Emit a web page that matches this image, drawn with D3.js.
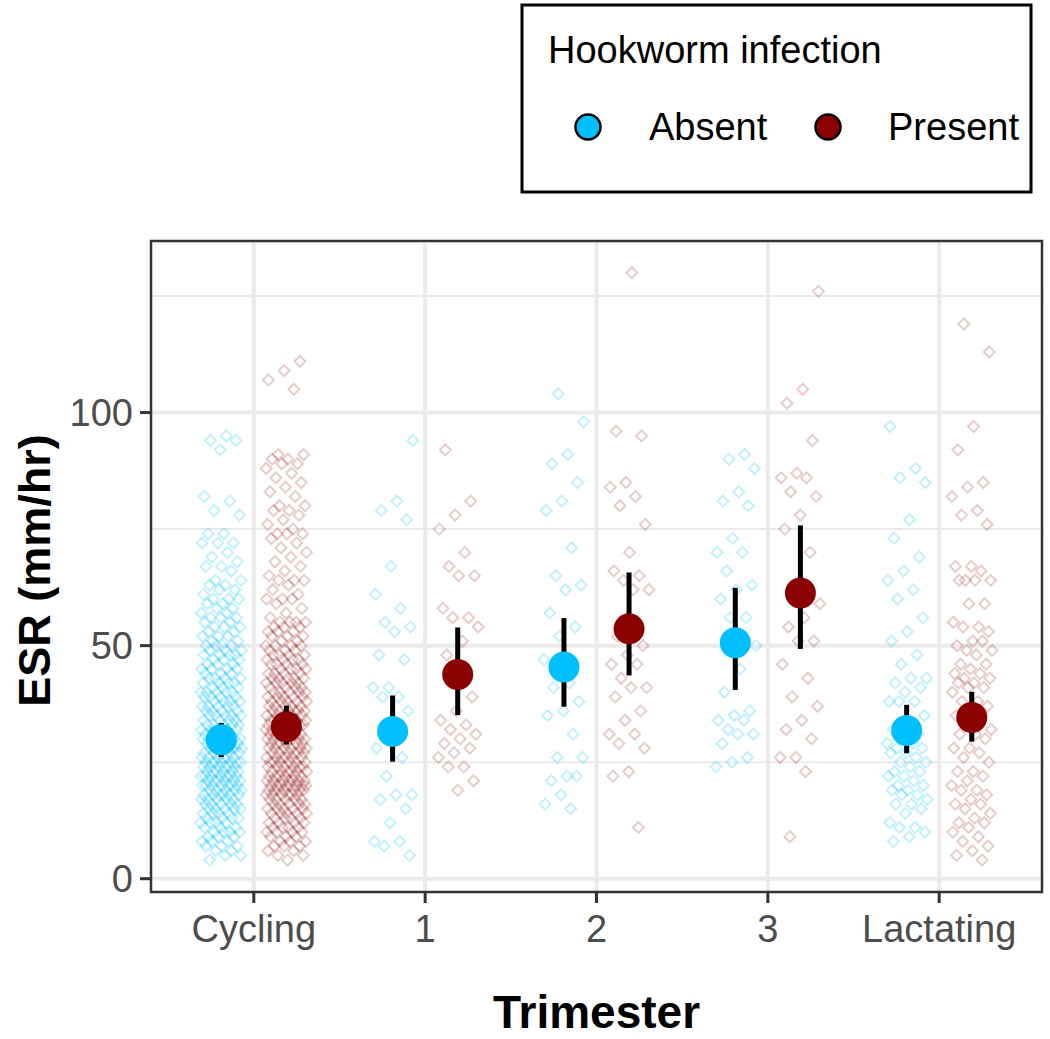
<!DOCTYPE html>
<html>
<head>
<meta charset="utf-8">
<script src="https://cdn.jsdelivr.net/npm/d3@7"></script>
<style>
  html, body { margin: 0; padding: 0; background: #fff; }
  svg { display: block; font-family: "Liberation Sans", Arial, Helvetica, sans-serif; }
</style>
</head>
<body>
<svg id="chart" width="1050" height="1039"></svg>
<script>
// ---------------- data ----------------
const categories = ["Cycling", "1", "2", "3", "Lactating"];
const groups = ["Absent", "Present"];
const groupColors = ["#00BFFF", "#8B0000"];

const meanAbsent  = [29.8, 31.6, 45.4, 50.6, 31.8];
const lowAbsent   = [26.1, 25.1, 36.9, 40.5, 26.9];
const highAbsent  = [33.4, 39.3, 55.9, 62.4, 37.3];
const meanPresent = [32.6, 43.8, 53.6, 61.3, 34.6];
const lowPresent  = [28.8, 35.1, 43.6, 49.3, 29.4];
const highPresent = [37.1, 53.9, 65.7, 75.8, 40.1];

const yMajorTicks = [0, 50, 100];
const yMinorTicks = [25, 75, 125];

const cyclingAbsent = [95,94,94,92,82,81,79,78,74,74,72,72,72,70,69,68,67,67,66,64,64,63,63,62,62,61,60,60,60,59,59,58,58,57,57,56,56,56,55,55,54,54,54,53,53,52,52,52,51,51,50,50,50,50,49,49,49,48,48,48,48,47,47,47,46,46,46,45,45,45,45,44,44,44,43,43,43,43,42,42,42,42,41,41,41,40,40,40,40,40,39,39,39,39,38,38,38,38,37,37,37,37,37,36,36,36,36,35,35,35,35,35,34,34,34,34,33,33,33,33,33,32,32,32,32,32,31,31,31,31,30,30,30,30,30,30,29,29,29,29,29,28,28,28,28,28,28,27,27,27,27,27,26,26,26,26,26,26,25,25,25,25,25,25,25,24,24,24,24,24,24,23,23,23,23,23,23,22,22,22,22,22,22,22,21,21,21,21,21,21,20,20,20,20,20,20,20,19,19,19,19,19,18,18,18,18,18,18,17,17,17,17,17,16,16,16,16,16,15,15,15,15,15,14,14,14,14,13,13,13,13,12,12,12,12,11,11,11,10,10,10,10,9,9,9,8,8,8,7,7,7,6,6,5,5,4];
const cyclingPresent = [111,109,107,105,91,91,90,90,89,89,88,87,86,85,84,83,82,80,80,79,79,78,77,76,75,74,74,74,73,72,71,70,69,68,67,66,65,64,64,64,63,62,61,60,60,60,59,58,57,56,55,55,55,55,54,54,54,53,53,53,52,52,52,51,51,50,50,50,50,49,49,49,48,48,48,48,47,47,47,47,46,46,46,46,45,45,45,45,44,44,44,44,43,43,43,43,43,42,42,42,42,42,41,41,41,41,40,40,40,40,40,39,39,39,39,39,38,38,38,38,38,37,37,37,37,37,36,36,36,36,36,36,35,35,35,35,35,35,34,34,34,34,34,34,33,33,33,33,33,33,32,32,32,32,32,32,31,31,31,31,31,31,30,30,30,30,30,30,30,29,29,29,29,29,29,28,28,28,28,28,28,27,27,27,27,27,27,26,26,26,26,26,26,25,25,25,25,25,25,24,24,24,24,24,24,23,23,23,23,23,23,22,22,22,22,22,22,21,21,21,21,21,21,21,20,20,20,20,20,20,20,20,19,19,19,19,19,19,19,18,18,18,18,18,18,17,17,17,17,17,16,16,16,16,16,15,15,15,15,15,14,14,14,14,14,13,13,13,13,12,12,12,12,11,11,11,11,10,10,10,10,9,9,9,8,8,8,7,7,7,6,6,5,5,4];
const t1Absent = [94,81,79,77,67,61,58,55,54,53,48,47,41,41,39,39,36,31,28,26,22,18,18,17,15,12,8,8,7,5];
const t1Present = [92,81,78,75,70,67,65,65,58,56,56,54,51,48,39,36,34,33,32,31,30,29,28,27,26,24,24,21,19];
const t2Absent = [104,98,91,89,85,81,79,71,65,63,62,57,54,52,47,42,41,38,36,35,31,26,26,22,21,22,18,16,15];
const t2Present = [130,96,95,85,84,82,80,76,70,66,65,64,62,62,52,50,48,46,46,43,41,41,39,36,34,31,31,29,28,23,22,11];
const t3Absent = [91,90,88,83,81,80,73,70,70,66,63,62,60,56,56,50,45,40,36,35,34,34,32,31,31,29,26,25,24];
const t3Present = [126,105,102,94,87,86,86,83,82,78,75,70,63,59,56,54,51,51,46,43,39,37,34,32,30,26,26,23,9];
const lactAbsent = [97,88,86,85,77,73,69,66,64,62,60,56,53,51,48,46,43,43,42,41,40,38,38,38,35,33,32,31,30,29,29,28,28,27,27,26,25,25,24,23,23,22,22,21,20,20,19,19,18,18,17,16,16,15,14,12,11,11,10,9,8];
const lactPresent = [119,113,97,92,85,84,82,79,78,76,67,67,66,64,64,64,64,59,59,55,54,54,53,51,50,51,49,49,48,46,46,45,44,44,43,43,42,42,41,41,40,38,38,37,36,35,35,33,32,31,31,30,28,28,27,26,25,23,23,22,21,20,19,19,18,17,16,16,15,14,13,12,12,11,10,9,8,7,6,5,4];

const rawAbsent  = [cyclingAbsent, t1Absent, t2Absent, t3Absent, lactAbsent];
const rawPresent = [cyclingPresent, t1Present, t2Present, t3Present, lactPresent];

// ---------------- layout ----------------
const svg = d3.select("#chart");
const panel = { left: 151, right: 1042, top: 241, bottom: 892 };

const x = d3.scalePoint().domain(categories)
  .range([panel.left, panel.right]).padding(0.6);
const step = x.step();
const dodge = d3.scaleOrdinal().domain(groups).range([-0.19 * step, 0.19 * step]);
const color = d3.scaleOrdinal().domain(groups).range(groupColors);

const y = d3.scaleLinear().domain([-2.85, 136.8]).range([panel.bottom, panel.top]);

const font = "'Liberation Sans', Arial, Helvetica, sans-serif";

// grid
const grid = svg.append("g");
grid.selectAll("line.minor").data(yMinorTicks).join("line")
  .attr("x1", panel.left).attr("x2", panel.right)
  .attr("y1", d => y(d)).attr("y2", d => y(d))
  .attr("stroke", "#EBEBEB").attr("stroke-width", 2);
grid.selectAll("line.major").data(yMajorTicks).join("line")
  .attr("x1", panel.left).attr("x2", panel.right)
  .attr("y1", d => y(d)).attr("y2", d => y(d))
  .attr("stroke", "#EBEBEB").attr("stroke-width", 4);
grid.selectAll("line.vmajor").data(categories).join("line")
  .attr("x1", d => x(d)).attr("x2", d => x(d))
  .attr("y1", panel.top).attr("y2", panel.bottom)
  .attr("stroke", "#EBEBEB").attr("stroke-width", 4);

// raw jittered points
const diamond = "M0,-5.5L5.5,0L0,5.5L-5.5,0Z";
const jitterHalf = 0.12 * step;
const pts = [];
[rawAbsent, rawPresent].forEach((sets, gi) => {
  sets.forEach((vals, ci) => {
    vals.forEach((v, i) => {
      const frac = ((i + 1) * 0.6180339887 + ci * 0.37 + gi * 0.21) % 1;
      pts.push({ cat: categories[ci], grp: groups[gi], v, j: (frac - 0.5) * 2 * jitterHalf });
    });
  });
});
svg.append("g").selectAll("path").data(pts).join("path")
  .attr("d", diamond)
  .attr("transform", d => `translate(${x(d.cat) + dodge(d.grp) + d.j},${y(d.v)})`)
  .attr("fill", "none")
  .attr("stroke", d => color(d.grp))
  .attr("stroke-width", 2)
  .attr("stroke-opacity", d => d.grp === "Absent" ? 0.24 : 0.2);

// error bars + means
const summary = [];
categories.forEach((c, i) => {
  summary.push({ cat: c, grp: "Absent", m: meanAbsent[i], lo: lowAbsent[i], hi: highAbsent[i] });
  summary.push({ cat: c, grp: "Present", m: meanPresent[i], lo: lowPresent[i], hi: highPresent[i] });
});
svg.append("g").selectAll("line").data(summary).join("line")
  .attr("x1", d => x(d.cat) + dodge(d.grp)).attr("x2", d => x(d.cat) + dodge(d.grp))
  .attr("y1", d => y(d.lo)).attr("y2", d => y(d.hi))
  .attr("stroke", "#000").attr("stroke-width", 5);
svg.append("g").selectAll("circle").data(summary).join("circle")
  .attr("cx", d => x(d.cat) + dodge(d.grp)).attr("cy", d => y(d.m))
  .attr("r", 15.5).attr("fill", d => color(d.grp));

// panel border
svg.append("rect")
  .attr("x", panel.left).attr("y", panel.top)
  .attr("width", panel.right - panel.left).attr("height", panel.bottom - panel.top)
  .attr("fill", "none").attr("stroke", "#333333").attr("stroke-width", 2.5);

// y axis ticks + labels
const yAxis = svg.append("g");
yAxis.selectAll("line").data(yMajorTicks).join("line")
  .attr("x1", panel.left - 11).attr("x2", panel.left)
  .attr("y1", d => y(d)).attr("y2", d => y(d))
  .attr("stroke", "#333333").attr("stroke-width", 3);
yAxis.selectAll("text").data(yMajorTicks).join("text")
  .attr("x", panel.left - 18).attr("y", d => y(d))
  .attr("dy", "0.36em").attr("text-anchor", "end")
  .attr("font-size", 38).attr("fill", "#4D4D4D").attr("font-family", font)
  .text(d => d);

// x axis ticks + labels
const xAxis = svg.append("g");
xAxis.selectAll("line").data(categories).join("line")
  .attr("x1", d => x(d)).attr("x2", d => x(d))
  .attr("y1", panel.bottom).attr("y2", panel.bottom + 11)
  .attr("stroke", "#333333").attr("stroke-width", 3);
xAxis.selectAll("text").data(categories).join("text")
  .attr("x", d => x(d)).attr("y", 942)
  .attr("text-anchor", "middle")
  .attr("font-size", 38).attr("fill", "#4D4D4D").attr("font-family", font)
  .text(d => d);

// axis titles
svg.append("text")
  .attr("x", (panel.left + panel.right) / 2).attr("y", 1028)
  .attr("text-anchor", "middle").attr("font-weight", "bold")
  .attr("font-size", 46).attr("font-family", font).attr("fill", "#000")
  .text("Trimester");
svg.append("text")
  .attr("transform", `translate(50,${(panel.top + panel.bottom) / 2 + 4}) rotate(-90)`)
  .attr("text-anchor", "middle").attr("font-weight", "bold")
  .attr("font-size", 45).attr("font-family", font).attr("fill", "#000")
  .text("ESR (mm/hr)");

// legend
const lg = svg.append("g");
lg.append("rect").attr("x", 522).attr("y", 5).attr("width", 509).attr("height", 187)
  .attr("fill", "#fff").attr("stroke", "#000").attr("stroke-width", 3);
lg.append("text").attr("x", 548).attr("y", 63)
  .attr("font-size", 38).attr("font-family", font).attr("fill", "#000")
  .text("Hookworm infection");
const keyX = [588, 828];
const labX = [649, 888];
groups.forEach((g, i) => {
  lg.append("circle").attr("cx", keyX[i]).attr("cy", 127).attr("r", 12.5)
    .attr("fill", color(g)).attr("stroke", "#000").attr("stroke-width", 2.5);
  lg.append("text").attr("x", labX[i]).attr("y", 140)
    .attr("font-size", 38).attr("font-family", font).attr("fill", "#000")
    .text(g);
});
</script>
</body>
</html>
